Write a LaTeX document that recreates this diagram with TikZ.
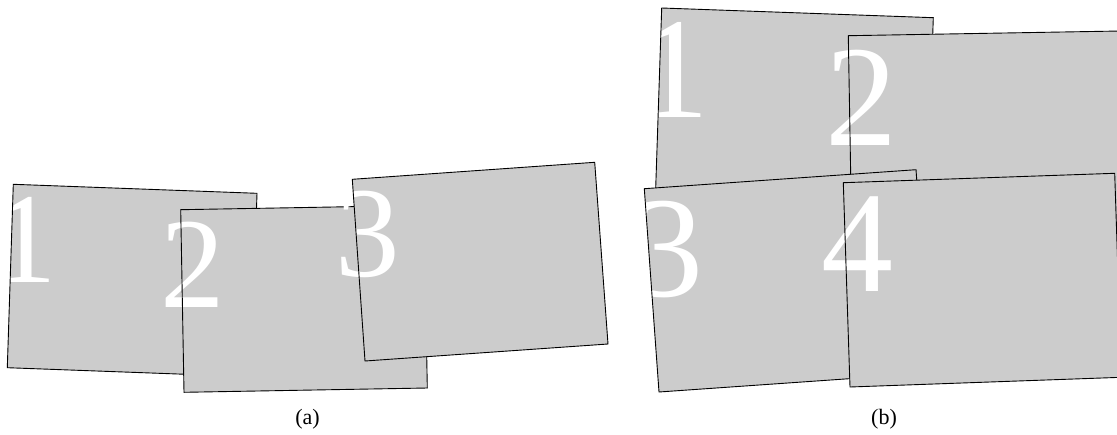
\documentclass[tikz,border=0pt]{standalone}
\usepackage{fontspec}
\setmainfont{Liberation Serif}
\begin{document}
\begin{tikzpicture}[x=1pt,y=-1pt,
  sheetfill/.style={fill=black!20},
  sheetline/.style={draw=black,line width=0.9pt,line join=miter},
  biga/.style={text=white,inner sep=0pt,anchor=base,font=\fontsize{129}{129}\selectfont},
  bigb/.style={text=white,inner sep=0pt,anchor=base,font=\fontsize{144}{144}\selectfont},
  capt/.style={inner sep=0pt,anchor=base,font=\fontsize{22}{22}\selectfont}]
\useasboundingbox (0,0) rectangle (1117,434);
% ---------- (a) ----------
\coordinate (a1a) at (13.3,184.3); \coordinate (a1b) at (257,193.3);
\coordinate (a1c) at (251,376.7);  \coordinate (a1d) at (7.3,367.7);
\coordinate (a2a) at (180.7,209.7); \coordinate (a2b) at (424,205.4);
\coordinate (a2c) at (427.3,388);   \coordinate (a2d) at (184,392.3);
\coordinate (a3a) at (352.3,179.3); \coordinate (a3b) at (594.7,162.3);
\coordinate (a3c) at (608,344);     \coordinate (a3d) at (365,361);
\fill[sheetfill] (a1a)--(a1b)--(a1c)--(a1d)--cycle;
\node[biga] (na1) at (24.5,282) {1};
\draw[sheetline] (a1a)--(a1b)--(a1c)--(a1d)--cycle;
\fill[sheetfill] (a2a)--(a2b)--(a2c)--(a2d)--cycle;
\node[biga] (na2) at (192.3,307.7) {2};
\draw[sheetline] (a2a)--(a2b)--(a2c)--(a2d)--cycle;
\fill[sheetfill] (a3a)--(a3b)--(a3c)--(a3d)--cycle;
\node[biga] (na3) at (367.5,276.5) {3};
\draw[sheetline] (a3a)--(a3b)--(a3c)--(a3d)--cycle;
\node[capt] (capa) at (307.5,424.5) {(a)};
% ---------- (b) ----------
\coordinate (b1a) at (661.7,8);    \coordinate (b1b) at (933.3,17.7);
\coordinate (b1c) at (926.5,221.7); \coordinate (b1d) at (654.9,212);
\coordinate (b2a) at (848.3,35.7); \coordinate (b2b) at (1120.3,31);
\coordinate (b2c) at (1123.8,235); \coordinate (b2d) at (851.8,239.7);
\coordinate (b3a) at (644.3,188.7); \coordinate (b3b) at (916,169.7);
\coordinate (b3c) at (930.7,373);   \coordinate (b3d) at (659,392);
\coordinate (b4a) at (843.3,182.7); \coordinate (b4b) at (1114.7,173.3);
\coordinate (b4c) at (1121.4,377.3); \coordinate (b4d) at (850,387);
\fill[sheetfill] (b1a)--(b1b)--(b1c)--(b1d)--cycle;
\node[bigb] (nb1) at (673.3,117.3) {1};
\draw[sheetline] (b1a)--(b1b)--(b1c)--(b1d)--cycle;
\fill[sheetfill] (b2a)--(b2b)--(b2c)--(b2d)--cycle;
\node[bigb] (nb2) at (861,145.7) {2};
\draw[sheetline] (b2a)--(b2b)--(b2c)--(b2d)--cycle;
\fill[sheetfill] (b3a)--(b3b)--(b3c)--(b3d)--cycle;
\node[bigb] (nb3) at (667,296) {3};
\draw[sheetline] (b3a)--(b3b)--(b3c)--(b3d)--cycle;
\fill[sheetfill] (b4a)--(b4b)--(b4c)--(b4d)--cycle;
\node[bigb] (nb4) at (857,291) {4};
\draw[sheetline] (b4a)--(b4b)--(b4c)--(b4d)--cycle;
\node[capt] (capb) at (884,424.5) {(b)};
\end{tikzpicture}
\end{document}
